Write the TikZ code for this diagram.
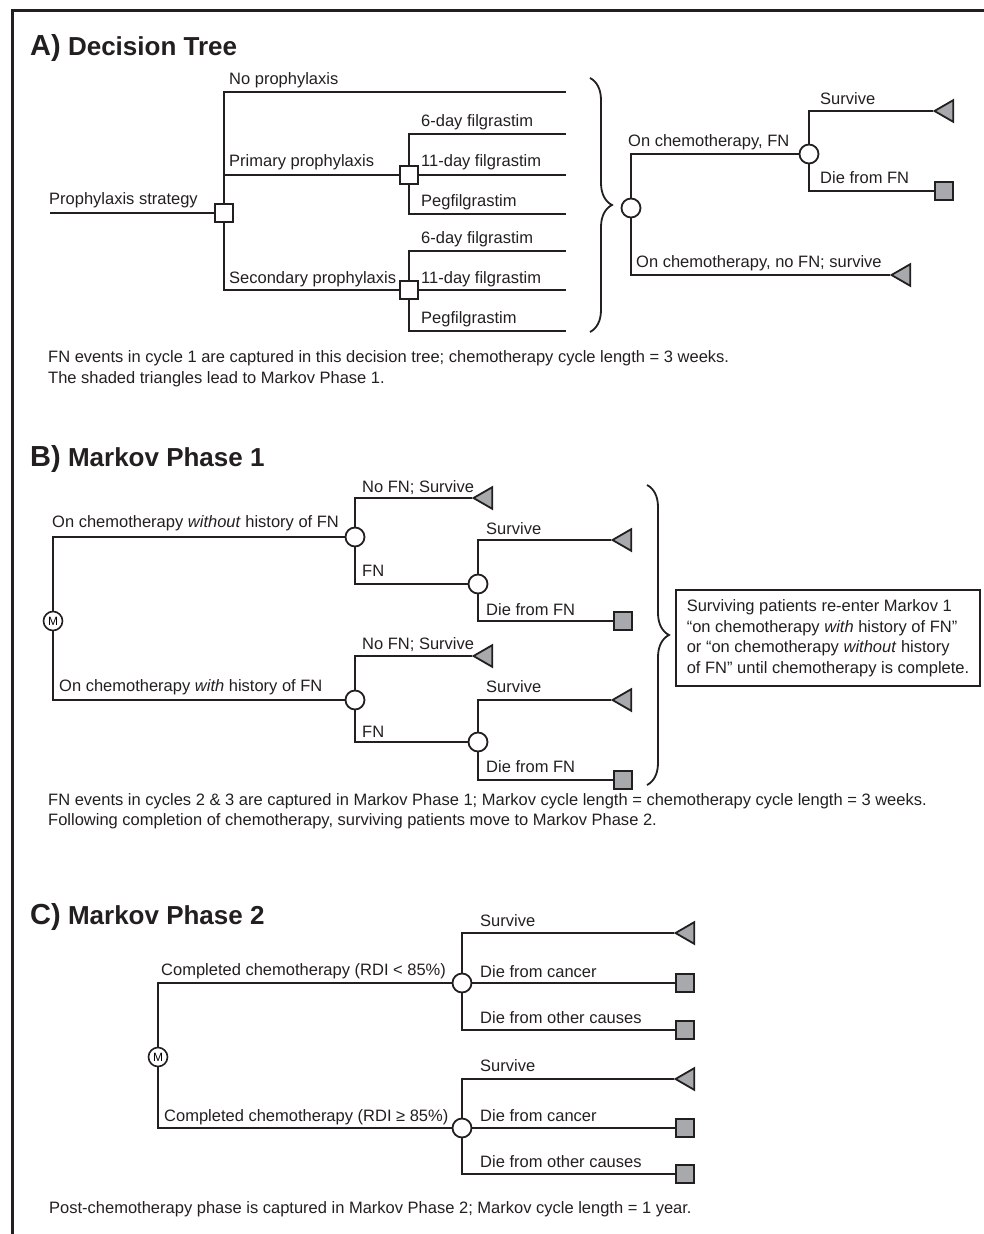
\documentclass[tikz,border=0pt]{standalone}
\usepackage{fontspec}
\setmainfont{Liberation Sans}
\usetikzlibrary{shapes.geometric,decorations.pathreplacing}
\definecolor{ink}{RGB}{35,31,32}
\definecolor{termgray}{RGB}{167,169,172}
\newcommand{\labfont}{\fontsize{16.5}{19}\selectfont}
\newcommand{\notefont}{\fontsize{16.5}{21}\selectfont}
\tikzset{
  decbox/.style={rectangle, draw=ink, line width=1.8pt, fill=white,
    minimum size=18pt, inner sep=0pt},
  chance/.style={circle, draw=ink, line width=1.8pt, fill=white,
    minimum size=19pt, inner sep=0pt},
  markov/.style={circle, draw=ink, line width=1.6pt, fill=white,
    minimum size=19pt, inner sep=0pt, font=\fontsize{12}{12}\selectfont},
  tritip/.style={regular polygon, regular polygon sides=3, regular polygon rotate=90,
    draw=ink, line width=1.8pt, fill=termgray, minimum size=25pt, inner sep=0pt},
  deadbox/.style={rectangle, draw=ink, line width=1.8pt, fill=termgray,
    minimum size=18pt, inner sep=0pt},
  lbl/.style={anchor=base west, inner sep=0pt, font=\labfont, text=ink},
  note/.style={anchor=base west, inner sep=0pt, font=\notefont, text=ink},
  heading/.style={anchor=base west, inner sep=0pt,
    font=\bfseries\fontsize{26}{28}\selectfont, text=ink},
  branch/.style={draw=ink, line width=1.8pt},
  brc/.style={draw=ink, line width=1.8pt, decorate, decoration={brace, amplitude=22pt}},
}
\begin{document}
\begin{tikzpicture}[x=1pt, y=-1pt]
  \useasboundingbox (0,0) rectangle (984,1234);
  \draw[draw=ink, line width=3.2pt] (12.5,1234) |- (984,10.5);

  % A) decision tree
  \node[heading] (ttlA) at (30,55) {{\fontsize{29}{30}\selectfont A)} Decision Tree};
  \coordinate (root) at (50,213);
  \node[decbox] (s0) at (224,213) {};
  \node[decbox] (s1) at (409,175) {};
  \node[decbox] (s2) at (409,290) {};
  \coordinate (e0) at (566,92);
  \coordinate (e1) at (566,134);
  \coordinate (e2) at (566,175);
  \coordinate (e3) at (566,214);
  \coordinate (e4) at (566,251);
  \coordinate (e5) at (566,290);
  \coordinate (e6) at (566,331);
  \draw[branch] (root) -- (s0);
  \draw[branch] (s0) |- (e0);
  \draw[branch] (s0) |- (s1);
  \draw[branch] (s0) |- (s2);
  \draw[branch] (s1) |- (e1);
  \draw[branch] (s1) -- (e2);
  \draw[branch] (s1) |- (e3);
  \draw[branch] (s2) |- (e4);
  \draw[branch] (s2) -- (e5);
  \draw[branch] (s2) |- (e6);
  \node[lbl] (lStrat) at (49,204) {Prophylaxis strategy};
  \node[lbl] (lNone) at (229,84) {No prophylaxis};
  \node[lbl] (lPrim) at (229,166) {Primary prophylaxis};
  \node[lbl] (lSec) at (229,283) {Secondary prophylaxis};
  \node[lbl] (lP6) at (421,126) {6-day filgrastim};
  \node[lbl] (lP11) at (421,166) {11-day filgrastim};
  \node[lbl] (lPpeg) at (421,206) {Pegfilgrastim};
  \node[lbl] (lS6) at (421,243) {6-day filgrastim};
  \node[lbl] (lS11) at (421,283) {11-day filgrastim};
  \node[lbl] (lSpeg) at (421,323) {Pegfilgrastim};

  \coordinate (braTopA) at (590,78);
  \coordinate (braBotA) at (590,332);
  \draw[brc] (braTopA) -- (braBotA);

  \node[chance] (c0) at (631,208) {};
  \node[chance] (c1) at (809,154) {};
  \node[tritip] (t0) at (947,111) {};
  \node[deadbox] (q0) at (944,191) {};
  \node[tritip] (t1) at (904,275) {};
  \draw[branch] (c0) |- (c1);
  \draw[branch] (c0) |- (t1);
  \draw[branch] (c1) |- (t0);
  \draw[branch] (c1) |- (q0);
  \node[lbl] (lFN) at (628,146) {On chemotherapy, FN};
  \node[lbl] (lSurv) at (820,104) {Survive};
  \node[lbl] (lDie) at (820,183) {Die from FN};
  \node[lbl] (lNoFN) at (636,267) {On chemotherapy, no FN; survive};

  \node[note] (fnA1) at (48,362) {FN events in cycle 1 are captured in this decision tree; chemotherapy cycle length = 3 weeks.};
  \node[note] (fnA2) at (48,383) {The shaded triangles lead to Markov Phase 1.};

  % B) Markov phase 1
  \node[heading] (ttlB) at (30,466) {{\fontsize{29}{30}\selectfont B)} Markov Phase 1};
  \node[markov] (m1) at (53,621) {M};
  \node[chance] (c2) at (355,537) {};
  \node[chance] (c3) at (478,584) {};
  \node[tritip] (t2) at (486,498) {};
  \node[tritip] (t3) at (625,540) {};
  \node[deadbox] (q1) at (623,621) {};
  \node[chance] (c4) at (355,700) {};
  \node[chance] (c5) at (478,742) {};
  \node[tritip] (t4) at (486,656) {};
  \node[tritip] (t5) at (625,700) {};
  \node[deadbox] (q2) at (623,780) {};
  \draw[branch] (m1) |- (c2);
  \draw[branch] (m1) |- (c4);
  \draw[branch] (c2) |- (t2);
  \draw[branch] (c2) |- (c3);
  \draw[branch] (c3) |- (t3);
  \draw[branch] (c3) |- (q1);
  \draw[branch] (c4) |- (t4);
  \draw[branch] (c4) |- (c5);
  \draw[branch] (c5) |- (t5);
  \draw[branch] (c5) |- (q2);
  \node[lbl] (lWithout) at (52,527) {On chemotherapy \textit{without} history of FN};
  \node[lbl] (lNoFN1) at (362,492) {No FN; Survive};
  \node[lbl] (lFN1) at (362,576) {FN};
  \node[lbl] (lSurv1) at (486,534) {Survive};
  \node[lbl] (lDie1) at (486,615) {Die from FN};
  \node[lbl] (lWith) at (59,691) {On chemotherapy \textit{with} history of FN};
  \node[lbl] (lNoFN2) at (362,649) {No FN; Survive};
  \node[lbl] (lFN2) at (362,737) {FN};
  \node[lbl] (lSurv2) at (486,692) {Survive};
  \node[lbl] (lDie2) at (486,772) {Die from FN};

  \coordinate (braTopB) at (647,485);
  \coordinate (braBotB) at (647,785);
  \draw[brc] (braTopB) -- (braBotB);
  \node[draw=ink, line width=1.8pt, align=left, inner sep=0pt, font=\fontsize{16.5}{20.5}\selectfont,
    text=ink, minimum width=304pt, minimum height=96pt] (reenter) at (828,638)
    {Surviving patients re-enter Markov 1\\
     “on chemotherapy \textit{with} history of FN”\\
     or “on chemotherapy \textit{without} history\\
     of FN” until chemotherapy is complete.};

  \node[note] (fnB1) at (48,805) {FN events in cycles 2 \& 3 are captured in Markov Phase 1; Markov cycle length = chemotherapy cycle length = 3 weeks.};
  \node[note] (fnB2) at (48,825) {Following completion of chemotherapy, surviving patients move to Markov Phase 2.};

  % C) Markov phase 2
  \node[heading] (ttlC) at (30,924) {{\fontsize{29}{30}\selectfont C)} Markov Phase 2};
  \node[markov] (m2) at (158,1057) {M};
  \node[chance] (c6) at (462,983) {};
  \node[chance] (c7) at (462,1128) {};
  \node[tritip] (t6) at (688,933) {};
  \node[deadbox] (q3) at (685,983) {};
  \node[deadbox] (q4) at (685,1030) {};
  \node[tritip] (t7) at (688,1079) {};
  \node[deadbox] (q5) at (685,1128) {};
  \node[deadbox] (q6) at (685,1174) {};
  \draw[branch] (m2) |- (c6);
  \draw[branch] (m2) |- (c7);
  \draw[branch] (c6) |- (t6);
  \draw[branch] (c6) -- (q3);
  \draw[branch] (c6) |- (q4);
  \draw[branch] (c7) |- (t7);
  \draw[branch] (c7) -- (q5);
  \draw[branch] (c7) |- (q6);
  \node[lbl] (lLow) at (161,975) {Completed chemotherapy (RDI < 85\%)};
  \node[lbl] (lHigh) at (164,1121) {Completed chemotherapy (RDI ≥ 85\%)};
  \node[lbl] (lSurv3) at (480,926) {Survive};
  \node[lbl] (lCanc3) at (480,977) {Die from cancer};
  \node[lbl] (lOth3) at (480,1023) {Die from other causes};
  \node[lbl] (lSurv4) at (480,1071) {Survive};
  \node[lbl] (lCanc4) at (480,1121) {Die from cancer};
  \node[lbl] (lOth4) at (480,1167) {Die from other causes};

  \node[note] (fnC) at (49,1213) {Post-chemotherapy phase is captured in Markov Phase 2; Markov cycle length = 1 year.};
\end{tikzpicture}
\end{document}
